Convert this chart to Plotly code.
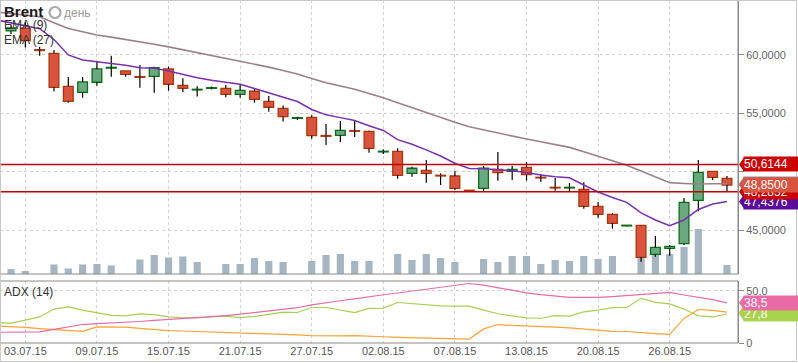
import plotly.graph_objects as go

# ---------------- data ----------------
dates = ["02.07.15", "03.07.15", "05.07.15", "06.07.15", "07.07.15", "08.07.15", "09.07.15",
         "10.07.15", "12.07.15", "13.07.15", "14.07.15", "15.07.15", "16.07.15", "17.07.15",
         "19.07.15", "20.07.15", "21.07.15", "22.07.15", "23.07.15", "24.07.15", "26.07.15",
         "27.07.15", "28.07.15", "29.07.15", "30.07.15", "31.07.15", "02.08.15", "03.08.15",
         "04.08.15", "05.08.15", "06.08.15", "07.08.15", "09.08.15", "10.08.15", "11.08.15",
         "12.08.15", "13.08.15", "14.08.15", "17.08.15", "18.08.15", "19.08.15", "20.08.15",
         "21.08.15", "23.08.15", "24.08.15", "25.08.15", "26.08.15", "27.08.15", "28.08.15",
         "30.08.15", "31.08.15"]

open_ = [62.06, 62.29, 60.45, 60.14, 57.31, 56.80, 57.66, 58.87, 58.63, 58.15, 58.17, 58.80, 57.40,
         57.00, 57.14, 57.14, 56.63, 56.89, 56.03, 55.43, 54.57, 54.66, 53.10, 53.11, 53.52, 53.46,
         51.69, 51.74, 49.86, 50.11, 49.69, 49.63, 48.39, 48.57, 50.20, 50.03, 50.37, 49.51, 48.66,
         48.60, 48.49, 47.03, 46.34, 45.35, 45.40, 42.91, 43.43, 43.83, 47.54, 50.03, 49.43]
high = [62.60, 62.80, 60.71, 60.43, 58.11, 58.11, 59.49, 59.94, 58.63, 59.14, 59.00, 59.00, 58.00,
        57.31, 57.30, 57.43, 57.43, 57.09, 56.49, 55.66, 54.71, 54.83, 54.09, 54.34, 54.37, 53.50,
        51.91, 52.00, 50.43, 51.00, 49.86, 50.06, 48.40, 50.49, 51.69, 50.49, 50.83, 49.80, 49.46,
        49.03, 49.09, 47.40, 46.46, 45.40, 45.42, 44.49, 43.71, 47.74, 51.00, 50.03, 49.63]
low = [61.80, 60.63, 59.94, 56.86, 55.91, 56.34, 57.37, 58.14, 58.14, 57.20, 56.77, 56.94, 56.83,
       56.43, 57.05, 56.37, 56.34, 55.91, 55.14, 54.29, 54.43, 52.83, 52.29, 52.54, 52.97, 51.63,
       51.51, 49.40, 49.57, 49.06, 48.86, 48.43, 48.33, 48.28, 49.23, 49.29, 49.23, 49.14, 48.37,
       48.28, 46.83, 46.06, 45.11, 45.33, 42.29, 42.71, 42.80, 43.71, 46.60, 49.29, 48.26]
close = [62.31, 61.23, 60.38, 57.23, 56.03, 57.69, 58.80, 58.94, 58.34, 58.08, 58.91, 57.49, 57.14,
         57.05, 57.20, 56.63, 56.97, 56.20, 55.52, 54.71, 54.63, 53.09, 53.03, 53.54, 53.46, 52.00,
         51.74, 49.69, 50.29, 49.86, 49.63, 48.57, 48.35, 50.29, 49.91, 50.20, 49.74, 49.46, 48.60,
         48.66, 47.03, 46.34, 45.57, 45.39, 42.66, 43.51, 43.60, 47.37, 49.94, 49.51, 48.85]

volume = [5000, 3000, 0, 9500, 5500, 9500, 10000, 8500, 0, 14500, 19000, 16500, 17500, 12000, 0,
          10000, 10000, 16000, 13000, 12000, 0, 13000, 19000, 20000, 13000, 13000, 0, 20000, 14000,
          20000, 16000, 12000, 0, 15000, 12000, 18000, 18000, 10000, 14000, 13000, 18000, 15000,
          18000, 0, 17000, 20000, 20000, 27000, 45000, 0, 9000]

# indicator series start one session before the first visible candle (index -1)
ema9 = [63.00, 62.76, 62.55, 62.25, 61.33, 60.00, 59.57, 59.42, 59.32, 59.12, 58.91, 58.87, 58.63,
        58.33, 58.05, 57.84, 57.65, 57.49, 57.13, 56.74, 56.36, 56.01, 55.33, 54.87, 54.63, 54.38,
        53.94, 53.53, 52.74, 52.35, 51.87, 51.34, 50.72, 50.28, 50.25, 50.19, 50.08, 49.93, 49.71,
        49.57, 49.48, 48.86, 48.26, 47.79, 47.37, 46.46, 45.86, 45.37, 45.86, 46.76, 47.23, 47.4376]
ema27 = [63.68, 63.56, 63.43, 63.28, 62.77, 62.26, 61.99, 61.71, 61.53, 61.34, 61.14, 60.92, 60.69,
         60.44, 60.19, 59.96, 59.73, 59.50, 59.25, 58.96, 58.67, 58.37, 57.99, 57.62, 57.34, 57.07,
         56.70, 56.34, 55.91, 55.48, 55.05, 54.64, 54.24, 53.84, 53.57, 53.32, 53.06, 52.80, 52.56,
         52.33, 52.08, 51.70, 51.33, 50.93, 50.54, 50.06, 49.54, 49.06, 48.99, 48.94, 48.96, 48.97]
levels = [50.6144, 48.2852]

adx = [10.3, 10.4, 10.5, 10.6, 13.0, 15.0, 17.7, 18.6, 19.1, 19.6, 20.6, 21.6, 22.5, 23.5, 24.1,
       25.0, 26.3, 27.6, 29.0, 30.5, 32.0, 33.8, 36.5, 38.8, 40.5, 42.3, 44.5, 46.2, 47.9, 49.8,
       51.5, 53.3, 55.2, 57.0, 55.5, 53.0, 50.5, 48.1, 46.4, 44.8, 43.7, 43.7, 43.7, 44.5, 45.6,
       46.5, 47.5, 48.5, 46.0, 44.0, 41.5, 38.5]
di_plus = [19.3, 19.1, 22.0, 25.0, 32.5, 34.6, 31.5, 28.8, 26.5, 26.0, 27.9, 27.2, 25.0, 24.2,
           24.0, 24.9, 25.8, 24.4, 25.5, 27.5, 29.5, 29.2, 34.0, 34.0, 31.5, 29.2, 33.2, 33.4, 38.8,
           37.6, 36.5, 35.6, 35.4, 35.3, 31.5, 28.0, 26.0, 24.0, 23.7, 26.2, 25.7, 29.8, 31.5, 33.8,
           34.0, 42.8, 39.0, 37.5, 32.5, 26.0, 25.0, 27.8]
di_minus = [16.3, 15.8, 14.9, 13.8, 13.1, 12.2, 11.2, 15.4, 15.4, 15.3, 14.0, 12.8, 11.9, 11.5,
            11.1, 10.7, 10.3, 9.9, 9.4, 8.8, 8.3, 7.7, 7.1, 6.8, 6.8, 7.0, 6.8, 6.0, 5.4, 5.0, 4.6,
            4.2, 4.0, 3.8, 13.5, 17.7, 16.8, 16.4, 16.0, 15.2, 14.4, 13.1, 12.2, 11.2, 11.0, 9.8,
            9.0, 8.3, 23.5, 32.1, 31.2, 29.5]

price_ticks = [45, 50, 55, 60]
price_ticktext = ["45,0000", "", "55,0000", "60,0000"]
adx_ticks = [0, 50]
adx_ticktext = ["0", "50,0"]

# ---------------- styling / layout ----------------
W, H = 798, 363
ML, MR, MT, MB = 0, 60, 0, 20
PW = W - ML - MR
PH = H - MT - MB            # plot area height in px
MAIN_BOTTOM_PX = 274
ADX_TOP_PX = 281


def py(ypix):
    return (PH - ypix) / PH


def px(xpix):
    return xpix / PW


FONT = "Liberation Sans, Arial, sans-serif"
UP_FILL, UP_LINE = "#6aa882", "#0b6e16"
DN_FILL, DN_LINE = "#d9533f", "#a8380c"

n = len(close)
idx = list(range(n))
ind_idx = list(range(-1, n))

body_lo = [min(o, c) for o, c in zip(open_, close)]
body_hi = [max(o, c) for o, c in zip(open_, close)]
body_h = [max(h - l, 0.06) for h, l in zip(body_hi, body_lo)]
is_up = [c >= o for o, c in zip(open_, close)]

wx, wy = [], []
for i in idx:
    wx += [i, i, None, i, i, None]
    wy += [high[i], body_hi[i], None, body_lo[i], low[i], None]

fig = go.Figure()

# volume (primary y, hidden)
fig.add_trace(go.Bar(x=idx, y=volume, width=0.5, marker=dict(color="#a5b5c2", line=dict(width=0)),
                     yaxis="y", hoverinfo="skip"))
# wicks
fig.add_trace(go.Scatter(x=wx, y=wy, mode="lines", line=dict(color="#000000", width=1.2),
                         yaxis="y2", hoverinfo="skip"))
# bodies
fig.add_trace(go.Bar(x=idx, y=body_h, base=body_lo, width=0.68,
                     marker=dict(color=[UP_FILL if u else DN_FILL for u in is_up],
                                 line=dict(color=[UP_LINE if u else DN_LINE for u in is_up], width=1.3)),
                     yaxis="y2", hoverinfo="skip"))
# EMAs
fig.add_trace(go.Scatter(x=ind_idx, y=ema27, mode="lines", line=dict(color="#9c8088", width=1.6),
                         yaxis="y2", hoverinfo="skip"))
fig.add_trace(go.Scatter(x=ind_idx, y=ema9, mode="lines", line=dict(color="#7a30b0", width=1.5),
                         yaxis="y2", hoverinfo="skip"))
# level lines
for lv in levels:
    fig.add_trace(go.Scatter(x=[-1, n], y=[lv, lv], mode="lines", line=dict(color="#c00000", width=1.5),
                             yaxis="y2", hoverinfo="skip"))
# ADX panel
fig.add_trace(go.Scatter(x=ind_idx, y=di_minus, mode="lines", line=dict(color="#ffa234", width=1.2),
                         yaxis="y4", hoverinfo="skip"))
fig.add_trace(go.Scatter(x=ind_idx, y=di_plus, mode="lines", line=dict(color="#a8d050", width=1.2),
                         yaxis="y4", hoverinfo="skip"))
fig.add_trace(go.Scatter(x=ind_idx, y=adx, mode="lines", line=dict(color="#ea6aa6", width=1.2),
                         yaxis="y4", hoverinfo="skip"))

main_domain = [py(MAIN_BOTTOM_PX), 1]
adx_domain = [0, py(ADX_TOP_PX)]

grid = dict(showgrid=True, gridcolor="#cfcfcf", griddash="dot", gridwidth=1)

fig.update_layout(
    width=W, height=H, margin=dict(l=ML, r=MR, t=MT, b=MB, autoexpand=False),
    paper_bgcolor="white", plot_bgcolor="white", showlegend=False,
    barmode="overlay", font=dict(family=FONT, size=11, color="#555"),
    xaxis=dict(range=[-0.77, n - 0.23], tickvals=idx[1::5], ticktext=dates[1::5], anchor="y4",
               ticks="", tickfont=dict(size=11, color="#555"), zeroline=False, automargin=False, **grid),
    yaxis=dict(domain=main_domain, range=[0, 274000], visible=False, showgrid=False, fixedrange=True),
    yaxis2=dict(domain=main_domain, overlaying="y", side="right", range=[41.23, 64.71], anchor="x",
                tickvals=price_ticks, ticktext=price_ticktext, ticks="outside", ticklen=5,
                tickcolor="#888", showline=True, linecolor="#888", zeroline=False, automargin=False,
                tickfont=dict(size=11, color="#666"), **grid),
    yaxis4=dict(domain=adx_domain, side="right", range=[0, 59.4], anchor="x",
                tickvals=adx_ticks, ticktext=adx_ticktext, ticks="outside", ticklen=5,
                tickcolor="#888", showline=True, linecolor="#888", zeroline=False, automargin=False,
                tickfont=dict(size=11, color="#666"), **grid),
)

shapes = []
# panel frames
for d in (main_domain, adx_domain):
    shapes.append(dict(type="rect", xref="paper", yref="paper", x0=0, x1=1, y0=d[0], y1=d[1],
                       line=dict(color="#8a8a8a", width=1), fillcolor="rgba(0,0,0,0)", layer="above"))
# outer frame
shapes.append(dict(type="rect", xref="paper", yref="paper", x0=px(0.4), x1=px(796.5),
                   y0=py(361.5), y1=py(0.5), line=dict(color="#c8c8c8", width=1),
                   fillcolor="rgba(0,0,0,0)", layer="above"))
# clock icon next to the period label
shapes.append(dict(type="circle", xref="paper", yref="paper", x0=px(49.5), x1=px(60.5),
                   y0=py(18), y1=py(7), line=dict(color="#ababab", width=2.2),
                   fillcolor="white", layer="above"))
shapes.append(dict(type="path", xref="paper", xsizemode="pixel", xanchor=px(55),
                   yref="paper", ysizemode="pixel", yanchor=py(12.5),
                   path="M0,0 L0,5 A5,5 0 0 1 5,0 Z", fillcolor="#ababab", line=dict(width=0),
                   layer="above"))

annotations = []


def value_tag(val, text, color, yref):
    shapes.append(dict(type="path", xref="paper", xsizemode="pixel", xanchor=1,
                       yref=yref, ysizemode="pixel", yanchor=val,
                       path="M1,0 L6,7 L6,-7 Z", fillcolor=color, line=dict(width=0), layer="above"))
    annotations.append(dict(xref="paper", x=1, xshift=5, xanchor="left", yref=yref, y=val,
                            yanchor="middle", text=text, showarrow=False, bgcolor=color,
                            width=56, height=14, align="left", borderpad=0,
                            font=dict(color="white", size=12, family=FONT)))


def fmt(v, d):
    return f"{v:.{d}f}".replace(".", ",")


value_tag(levels[0], fmt(levels[0], 4), "#cc0000", "y2")
value_tag(ema9[-1], fmt(ema9[-1], 4), "#5a0a9a", "y2")
value_tag(levels[1], fmt(levels[1], 4), "#cc0000", "y2")
value_tag(ema27[-1], fmt(ema27[-1], 4), "#a08890", "y2")
value_tag(close[-1], fmt(close[-1], 4), "#d9533f", "y2")

value_tag(di_minus[-1], fmt(di_minus[-1], 1), "#ffa234", "y4")
value_tag(di_plus[-1], fmt(di_plus[-1], 1), "#a8d44c", "y4")
value_tag(adx[-1], fmt(adx[-1], 1), "#ea6aa6", "y4")


def label(text, xpix, ypix, size, color, bold=False):
    annotations.append(dict(xref="paper", x=px(xpix), xanchor="left", yref="paper", y=py(ypix),
                            yanchor="middle", text=f"<b>{text}</b>" if bold else text, showarrow=False,
                            font=dict(size=size, color=color, family=FONT)))


label("Brent", 2, 11.5, 15, "#1a1a1a", bold=True)
label("день", 62, 12.5, 12, "#9a9a9a")
label("EMA (9)", 2, 25.5, 12, "#333333")
label("EMA (27)", 2, 39.5, 12, "#333333")
label("ADX (14)", 2, 291.5, 12, "#333333")

fig.update_layout(shapes=shapes, annotations=annotations)

fig.write_html("out.html", config={"displayModeBar": False, "staticPlot": True},
               post_script="document.body.style.margin='0px';document.body.style.overflow='hidden';")
